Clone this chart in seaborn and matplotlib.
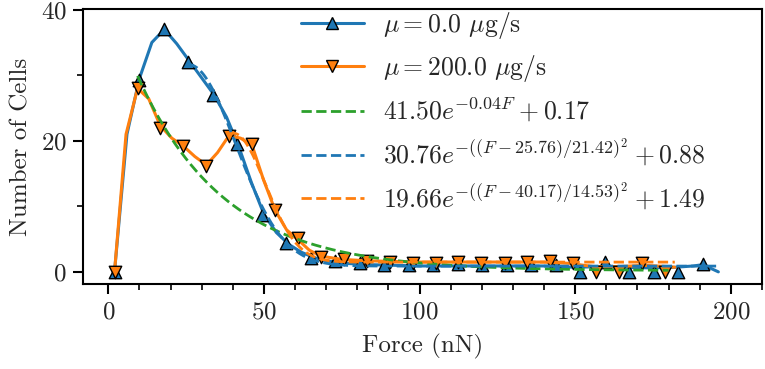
import numpy as np
import pandas as pd
import matplotlib
matplotlib.use("Agg")
import matplotlib.pyplot as plt
from matplotlib.lines import Line2D
from matplotlib.ticker import MultipleLocator
import seaborn as sns

# ---------------- data ----------------
blue_x = [2.0, 9.9, 17.75, 25.6, 33.5, 41.4, 49.25, 57.1, 65.0, 72.9, 80.75, 88.6, 96.5,
          104.4, 112.25, 120.1, 128.0, 135.9, 143.75, 151.6, 159.5, 167.4, 175.25, 183.1, 191.0]
blue_y = [0.0, 29.2, 37.0, 32.0, 27.0, 19.5, 8.7, 4.4, 2.1, 1.6, 1.3, 1.0, 1.1,
          1.0, 1.2, 1.0, 1.0, 1.0, 1.0, 0.0, 1.5, 0.0, 0.0, 0.0, 1.2]

orange_x = [2.0, 9.4, 16.7, 24.1, 31.5, 38.8, 46.2, 53.6, 61.0, 68.3, 75.7, 83.1, 90.4,
            97.8, 105.2, 112.5, 119.9, 127.3, 134.6, 142.0, 149.4, 156.8, 164.1, 171.5, 178.8]
orange_y = [0.0, 28.0, 22.0, 19.2, 16.2, 20.8, 19.5, 9.4, 5.2, 2.3, 1.9, 1.6, 1.5,
            1.4, 1.4, 1.5, 1.4, 1.4, 1.5, 1.6, 1.4, 0.0, 0.0, 1.4, 0.0]

# smoothed curves drawn through the histograms
blue_line_x = [2, 6, 10, 14, 18, 22, 26, 30, 34, 38, 42, 46, 50, 54, 58, 62, 66, 70, 76, 84,
               92, 100, 110, 120, 130, 140, 150, 158, 166, 174, 182, 188, 191, 196]
blue_line_y = [0, 21, 29.5, 35, 37, 34.8, 32.2, 29.6, 27, 23.6, 19, 13.6, 8.8, 6, 4.2, 3.0, 2.2,
               1.7, 1.3, 1.1, 1.0, 0.9, 0.9, 0.9, 0.9, 0.9, 0.7, 0.8, 0.7, 0.6, 0.7, 0.9, 1.1, 0.0]

orange_line_x = [2, 5.7, 9.4, 13.0, 16.7, 20.4, 24.1, 27.8, 31.5, 35.1, 38.8, 42.5, 46.2, 49.9,
                 53.6, 57.3, 61.0, 64.6, 68.3, 75, 83, 90, 100, 110, 120, 130, 140, 148, 156,
                 164, 172, 180, 182]
orange_line_y = [0, 21, 28, 26.4, 22.3, 20.4, 19.2, 17.6, 16.3, 18.2, 20.8, 20.4, 19.3, 14,
                 9.4, 6.4, 4.9, 3.3, 2.4, 1.9, 1.7, 1.6, 1.5, 1.5, 1.5, 1.5, 1.5, 1.3, 0.8,
                 0.8, 1.0, 0.8, 0.7]

# fitted models (parameters as shown in the legend)
exp_params = dict(a=41.50, k=0.0355, c=0.17, lo=9.4, hi=180.0)
gauss_blue = dict(a=30.76, mu=25.76, s=21.42, c=0.88, lo=25.6, hi=196.0)
gauss_orange = dict(a=19.66, mu=40.17, s=14.53, c=1.49, lo=38.8, hi=182.0)

labels = [r"$\mu = 0.0$ $\mu$g/s",
          r"$\mu = 200.0$ $\mu$g/s",
          r"$41.50e^{-0.04F}+0.17$",
          r"$30.76e^{-((F-25.76)/21.42)^2}+0.88$",
          r"$19.66e^{-((F-40.17)/14.53)^2}+1.49$"]

x_ticks = [0, 50, 100, 150, 200]
y_ticks = [0, 20, 40]

# ---------------- style ----------------
sns.set_style("ticks")
plt.rcParams["font.family"] = ["serif"]
plt.rcParams["font.serif"] = ["cmr10", "DejaVu Serif"]
plt.rcParams["mathtext.fontset"] = "cm"
plt.rcParams["axes.unicode_minus"] = False
plt.rcParams["axes.formatter.use_mathtext"] = True

C_BLUE = "#1f77b4"
C_ORANGE = "#ff7f0e"
C_GREEN = "#2ca02c"
FS = 18

fig = plt.figure(figsize=(7.65, 3.69), dpi=100)
ax = fig.add_axes([0.109, 0.2295, 0.887, 0.746])

sns.lineplot(x=blue_line_x, y=blue_line_y, ax=ax, color=C_BLUE, lw=2.2, sort=False,
             estimator=None, zorder=2)
sns.scatterplot(x=blue_x, y=blue_y, ax=ax, marker="^", s=80, color=C_BLUE,
                edgecolor="black", linewidth=1.0, zorder=3)
sns.lineplot(x=orange_line_x, y=orange_line_y, ax=ax, color=C_ORANGE, lw=2.2, sort=False,
             estimator=None, zorder=4)
sns.scatterplot(x=orange_x, y=orange_y, ax=ax, marker="v", s=80, color=C_ORANGE,
                edgecolor="black", linewidth=1.0, zorder=5)

xg = np.linspace(exp_params["lo"], exp_params["hi"], 300)
yg = exp_params["a"] * np.exp(-exp_params["k"] * xg) + exp_params["c"]
sns.lineplot(x=xg, y=yg, ax=ax, color=C_GREEN, lw=2.0, linestyle="--", zorder=6)

xb = np.linspace(gauss_blue["lo"], gauss_blue["hi"], 300)
yb = gauss_blue["a"] * np.exp(-((xb - gauss_blue["mu"]) / gauss_blue["s"]) ** 2) + gauss_blue["c"]
sns.lineplot(x=xb, y=yb, ax=ax, color=C_BLUE, lw=2.0, linestyle="--", zorder=6)

xo = np.linspace(gauss_orange["lo"], gauss_orange["hi"], 300)
yo = gauss_orange["a"] * np.exp(-((xo - gauss_orange["mu"]) / gauss_orange["s"]) ** 2) + gauss_orange["c"]
sns.lineplot(x=xo, y=yo, ax=ax, color=C_ORANGE, lw=2.0, linestyle="--", zorder=6)

ax.set_xlim(-8, 210)
ax.set_ylim(-1.9, 40.1)
ax.set_xticks(x_ticks)
ax.set_yticks(y_ticks)
ax.xaxis.set_minor_locator(MultipleLocator(10))
ax.yaxis.set_minor_locator(MultipleLocator(10))
ax.tick_params(axis="both", which="major", direction="out", length=7, width=1.5,
               labelsize=FS, color="black", pad=5)
ax.tick_params(axis="both", which="minor", direction="out", length=4.5, width=1.2, color="black")
for sp in ax.spines.values():
    sp.set_linewidth(1.5)
    sp.set_color("black")
ax.set_xlabel("Force (nN)", fontsize=FS, labelpad=8)
ax.set_ylabel("Number of Cells", fontsize=FS, labelpad=6)

handles = [
    Line2D([], [], color=C_BLUE, lw=2.2, marker="^", markersize=9, markerfacecolor=C_BLUE,
           markeredgecolor="black", markeredgewidth=1.0),
    Line2D([], [], color=C_ORANGE, lw=2.2, marker="v", markersize=9, markerfacecolor=C_ORANGE,
           markeredgecolor="black", markeredgewidth=1.0),
    Line2D([], [], color=C_GREEN, lw=2.0, linestyle="--"),
    Line2D([], [], color=C_BLUE, lw=2.0, linestyle="--"),
    Line2D([], [], color=C_ORANGE, lw=2.0, linestyle="--"),
]
ax.legend(handles, labels, loc="upper left", bbox_to_anchor=(0.305, 1.035), frameon=False,
          fontsize=18.5, handlelength=2.45, handletextpad=0.75, labelspacing=0.48, numpoints=1,
          borderaxespad=0.0)

fig.savefig("out.png", dpi=100)
